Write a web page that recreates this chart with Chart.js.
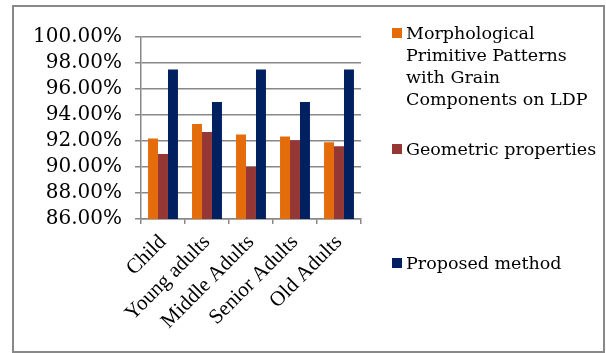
<!DOCTYPE html>
<html>
<head>
<meta charset="utf-8">
<script src="https://cdn.jsdelivr.net/npm/chart.js@4"></script>
<style>
body{margin:0;background:#fff}
#wrap{position:relative;width:606px;height:353px}
#frame{position:absolute;left:12px;top:5px;width:593px;height:348px;border:2px solid #888;box-sizing:border-box;pointer-events:none}
.item{position:absolute;left:392px;font:17.5px 'DejaVu Serif';color:#000;line-height:22px}
.sw{position:absolute;left:0;top:6px;width:10px;height:10px}
.txt{margin-left:14px;white-space:pre}
</style>
</head>
<body>
<div id="wrap">
<canvas id="chart1" width="606" height="353"></canvas>
<div id="frame"></div>
<div id="legend"></div>
</div>
<script>
const groups = ['Child', 'Young adults', 'Middle Adults', 'Senior Adults', 'Old Adults'];
const legendLines = [
    ['Morphological', 'Primitive Patterns', 'with Grain', 'Components on LDP'],
    ['Geometric properties'],
    ['Proposed method']
];
const morphological = [92.2, 93.3, 92.5, 92.35, 91.9];
const geometric = [91.0, 92.7, 90.0, 92.05, 91.6];
const proposed = [97.5, 95.0, 97.5, 95.0, 97.5];
const colors = ['#E46C0A', '#953735', '#002060'];
const legendTops = [22, 138, 252];

const chart = new Chart('chart1', {
    type: 'bar',
    data: {
        labels: groups,
        datasets: [morphological, geometric, proposed].map((d, i) => ({
            label: legendLines[i].join(' '),
            data: d,
            backgroundColor: colors[i],
            borderWidth: 0,
            barPercentage: 1,
            categoryPercentage: 0.68
        }))
    },
    options: {
        responsive: false,
        animation: false,
        layout: {padding: {left: 14, top: 37, right: 245, bottom: 0}},
        plugins: {legend: {display: false}, tooltip: {enabled: false}},
        scales: {
            x: {
                grid: {drawOnChartArea: false, color: '#888', lineWidth: 1.5, tickLength: 5, offset: true},
                border: {color: '#888', width: 1.5},
                ticks: {font: {family: 'Liberation Serif', size: 21}, color: '#000', minRotation: 45, maxRotation: 45, padding: 6, autoSkip: false},
                afterFit(s) { s.height = 134; }
            },
            y: {
                min: 86,
                max: 100,
                ticks: {stepSize: 2, autoSkip: false, callback: v => v.toFixed(2) + '%', font: {family: 'DejaVu Serif', size: 20}, color: '#000', padding: 13},
                grid: {color: '#888', lineWidth: 1.5, tickLength: 6},
                border: {color: '#888', width: 1.5},
                afterFit(s) { s.width = 127; }
            }
        }
    }
});

// legend on the right, built from the chart's datasets
const legend = document.getElementById('legend');
chart.data.datasets.forEach((ds, i) => {
    const item = document.createElement('div');
    item.className = 'item';
    item.style.top = legendTops[i] + 'px';
    const sw = document.createElement('div');
    sw.className = 'sw';
    sw.style.background = ds.backgroundColor;
    const txt = document.createElement('div');
    txt.className = 'txt';
    txt.textContent = legendLines[i].join('\n');
    item.appendChild(sw);
    item.appendChild(txt);
    legend.appendChild(item);
});
</script>
</body>
</html>
